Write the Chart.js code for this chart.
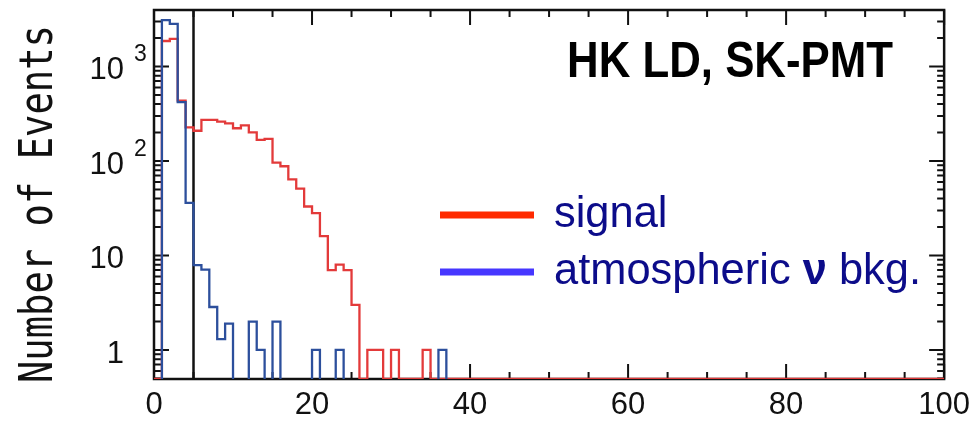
<!DOCTYPE html>
<html>
<head>
<meta charset="utf-8">
<script src="https://cdn.jsdelivr.net/npm/chart.js@4/dist/chart.umd.min.js"></script>
<style>
  html, body { margin: 0; padding: 0; background: #fff; }
  #wrap { width: 978px; height: 421px; }
</style>
</head>
<body>
<div id="wrap"><canvas id="chart"></canvas></div>
<script>
// --- DATA ---
// histogram bins of width 1 starting at 0 (100 bins, 0..100)
const binStart = 0;
const binWidth = 1;

// signal counts per bin (red)
const signalCounts = [
  0, 1860, 1960, 435, 227, 209, 272, 272, 261, 250,
  222, 238, 201, 167, 171, 96, 88, 64, 51, 33,
  28, 16, 7, 8, 7, 3, 0, 1, 1, 0,
  1, 0, 0, 0, 1, 0, 0, 0, 0, 0,
  0, 0, 0, 0, 0, 0, 0, 0, 0, 0,
  0, 0, 0, 0, 0, 0, 0, 0, 0, 0,
  0, 0, 0, 0, 0, 0, 0, 0, 0, 0,
  0, 0, 0, 0, 0, 0, 0, 0, 0, 0,
  0, 0, 0, 0, 0, 0, 0, 0, 0, 0,
  0, 0, 0, 0, 0, 0, 0, 0, 0, 0
];

// atmospheric neutrino background counts per bin (blue)
const bkgCounts = [
  0, 3100, 2820, 420, 36, 7.9, 7.1, 2.85, 1.3, 1.9,
  0, 0, 2, 1, 0, 2, 0, 0, 0, 0,
  1, 0, 0, 1, 0, 0, 0, 0, 0, 0,
  0, 0, 0, 0, 0, 0, 1, 0, 0, 0,
  0, 0, 0, 0, 0, 0, 0, 0, 0, 0,
  0, 0, 0, 0, 0, 0, 0, 0, 0, 0,
  0, 0, 0, 0, 0, 0, 0, 0, 0, 0,
  0, 0, 0, 0, 0, 0, 0, 0, 0, 0,
  0, 0, 0, 0, 0, 0, 0, 0, 0, 0,
  0, 0, 0, 0, 0, 0, 0, 0, 0, 0
];

const seriesNames = ['signal', 'atmospheric \u03bd bkg.'];
const cutValue = 5;

// axis ranges and ticks
const xMin = 0, xMax = 100;
const xMajorStep = 20, xMinorStep = 5;
const yMin = 0.493, yMax = 3960;
const yLabelValues = [1, 10, 100, 1000];
const yLabelBase = ['1', '10', '10', '10'];
const yLabelExp = ['', '', '2', '3'];

// --- HELPERS ---
// turn bin counts into step points; empty bins go to "floor"
function toSteps(counts, floor) {
  const pts = counts.map((c, i) => ({ x: binStart + i * binWidth, y: c > 0 ? c : floor }));
  pts.push({ x: binStart + counts.length * binWidth, y: pts[pts.length - 1].y });
  return pts;
}

function yTickValues() {
  const vals = [];
  for (let d = 0.1; d < yMax; d *= 10) {
    for (let m = 1; m <= 9; m++) {
      const v = Math.round(m * d * 1000) / 1000;
      if (v >= yMin && v <= yMax) vals.push(v);
    }
  }
  return vals;
}

// draw text parts squeezed to a given width
function drawFit(ctx, parts, x, y, width) {
  let total = 0;
  parts.forEach(p => { ctx.font = p.font; total += ctx.measureText(p.text).width; });
  const s = width ? width / total : 1;
  ctx.save();
  ctx.translate(x, y);
  ctx.scale(s, 1);
  let cx = 0;
  parts.forEach(p => {
    ctx.font = p.font;
    ctx.fillText(p.text, cx, 0);
    cx += ctx.measureText(p.text).width;
  });
  ctx.restore();
  return s;
}

// --- COLORS ---
const redHist = '#e33a3a';
const blueHist = '#2c4f9c';
const redLegend = '#ff2a00';
const blueLegend = '#4636ff';
const navy = '#0c0c8a';

// box, ticks, labels and legend
const framePlugin = {
  id: 'frame',
  beforeDatasetsDraw(chart) {
    const { ctx, chartArea: a, scales: { x, y } } = chart;
    ctx.save();
    ctx.strokeStyle = '#111';

    // cut line
    const pc = x.getPixelForValue(cutValue);
    ctx.lineWidth = 2.5;
    ctx.beginPath();
    ctx.moveTo(pc, a.bottom);
    ctx.lineTo(pc, a.top);
    ctx.stroke();

    // box and inward ticks
    ctx.lineWidth = 2.5;
    ctx.strokeRect(a.left, a.top, a.right - a.left, a.bottom - a.top);
    ctx.lineWidth = 2;
    ctx.beginPath();
    for (let v = xMin; v <= xMax; v += xMinorStep) {
      const px = x.getPixelForValue(v);
      const len = v % xMajorStep === 0 ? 15 : 7;
      ctx.moveTo(px, a.bottom); ctx.lineTo(px, a.bottom - len);
      ctx.moveTo(px, a.top); ctx.lineTo(px, a.top + len);
    }
    yTickValues().forEach(v => {
      const py = y.getPixelForValue(v);
      const len = yLabelValues.includes(v) ? 15 : 7;
      ctx.moveTo(a.left, py); ctx.lineTo(a.left + len, py);
      ctx.moveTo(a.right, py); ctx.lineTo(a.right - len, py);
    });
    ctx.stroke();
    ctx.restore();
  },
  afterDraw(chart) {
    const { ctx, scales: { y } } = chart;
    ctx.save();
    ctx.fillStyle = '#111';

    // y tick labels with exponents
    yLabelValues.forEach((v, i) => {
      const py = y.getPixelForValue(v);
      ctx.font = '31px "Liberation Sans", Arial, sans-serif';
      ctx.textAlign = 'right';
      ctx.textBaseline = 'alphabetic';
      ctx.fillText(yLabelBase[i], 124, py + 13);
      if (yLabelExp[i]) {
        ctx.font = '23px "Liberation Sans", Arial, sans-serif';
        ctx.textAlign = 'left';
        ctx.fillText(yLabelExp[i], 134, py - 5);
      }
    });

    // y axis title
    ctx.save();
    ctx.translate(52, 204);
    ctx.rotate(-Math.PI / 2);
    ctx.textAlign = 'left';
    ctx.textBaseline = 'alphabetic';
    drawFit(ctx, [{ text: 'Number of Events', font: '46px "DejaVu Sans Mono", monospace' }], -179, 0, 358);
    ctx.restore();

    // label in the corner
    ctx.textAlign = 'left';
    ctx.textBaseline = 'alphabetic';
    ctx.fillStyle = '#000';
    drawFit(ctx, [{ text: 'HK LD, SK-PMT', font: 'bold 50px "Liberation Sans", Arial, sans-serif' }], 567, 77, 326);

    // legend
    const colors = [redLegend, blueLegend];
    const rows = [215, 272];
    ctx.lineWidth = 7;
    rows.forEach((ry, i) => {
      ctx.strokeStyle = colors[i];
      ctx.beginPath();
      ctx.moveTo(440, ry);
      ctx.lineTo(534, ry);
      ctx.stroke();
    });
    ctx.fillStyle = navy;
    const legendFont = '45px "Liberation Sans", Arial, sans-serif';
    const nu = seriesNames[1].split(' ');
    const s = drawFit(ctx, [
      { text: nu[0] + ' ', font: legendFont },
      { text: nu[1], font: 'bold ' + legendFont },
      { text: ' ' + nu[2], font: legendFont }
    ], 554, 284, 367);
    ctx.save();
    ctx.translate(554, 227);
    ctx.scale(s, 1);
    ctx.font = legendFont;
    ctx.fillText(seriesNames[0], 0, 0);
    ctx.restore();

    ctx.restore();
  }
};

// --- CHART ---
const ctx = document.getElementById('chart').getContext('2d');

new Chart(ctx, {
  type: 'line',
  data: {
    datasets: [
      {
        // first dataset is painted last, so the background sits on top
        label: seriesNames[1],
        data: toSteps(bkgCounts, yMin / 10),
        borderColor: blueHist,
        borderWidth: 2.3,
        stepped: 'before',
        pointRadius: 0,
        fill: false
      },
      {
        label: seriesNames[0],
        data: toSteps(signalCounts, yMin),
        borderColor: redHist,
        borderWidth: 2.3,
        stepped: 'before',
        pointRadius: 0,
        fill: false
      }
    ]
  },
  options: {
    responsive: true,
    maintainAspectRatio: false,
    animation: false,
    layout: { padding: { left: 0, right: 33, top: 10, bottom: 0 } },
    plugins: {
      legend: { display: false },
      tooltip: { enabled: false }
    },
    scales: {
      x: {
        type: 'linear',
        min: xMin,
        max: xMax,
        grid: { display: false, drawTicks: false },
        border: { display: false },
        ticks: {
          stepSize: xMajorStep,
          maxRotation: 0,
          padding: 8,
          color: '#111',
          font: { family: '"Liberation Sans", Arial, sans-serif', size: 31 }
        },
        afterFit: (scale) => { scale.height = 42; }
      },
      y: {
        type: 'logarithmic',
        min: yMin,
        max: yMax,
        grid: { display: false, drawTicks: false },
        border: { display: false },
        ticks: { display: false },
        afterFit: (scale) => { scale.width = 154; }
      }
    }
  },
  plugins: [framePlugin]
});
</script>
</body>
</html>
